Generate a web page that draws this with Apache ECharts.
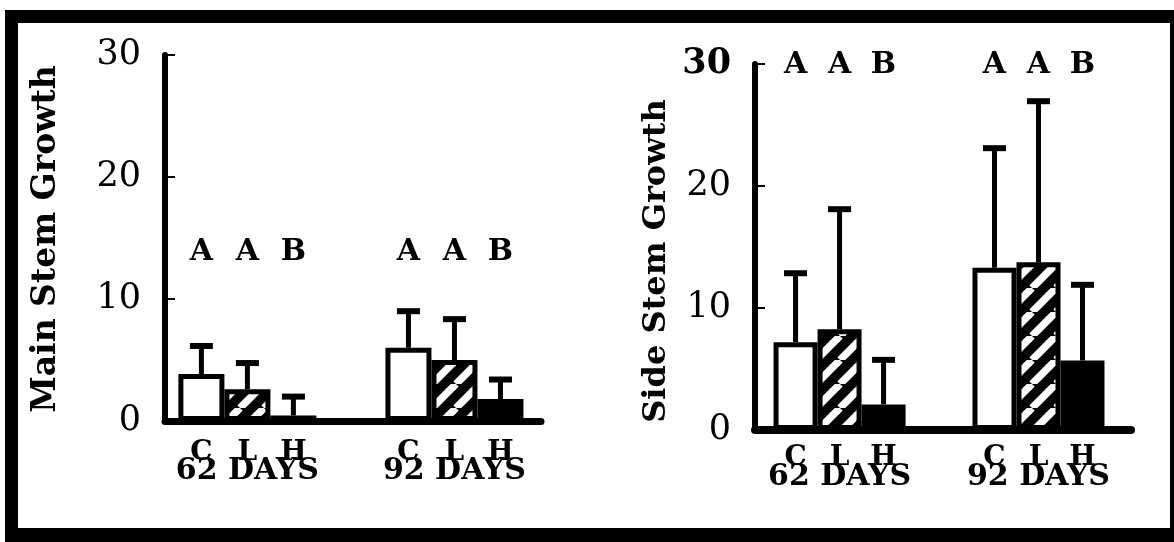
<!DOCTYPE html>
<html><head><meta charset="utf-8">
<script src="https://cdn.jsdelivr.net/npm/echarts@6/dist/echarts.min.js"></script>
<style>html,body{margin:0;padding:0;background:#fff}#c{width:1174px;height:542px}</style>
</head><body><div id="c"></div>
<script>
// ---------- data ----------
const GROUPS = ['62 DAYS', '92 DAYS'];
const GROUP_X = [1, 2];
const TREATMENTS = ['C', 'L', 'H'];
const Y_TICKS = [0, 10, 20, 30];

// Main stem growth (mean, upper end of error bar) for 62 / 92 days
const MAIN_C = [3.85, 6.0];
const MAIN_L = [2.6, 5.0];
const MAIN_H = [0.45, 1.8];
const MAIN_C_UP = [6.15, 9.0];
const MAIN_L_UP = [4.75, 8.35];
const MAIN_H_UP = [2.0, 3.4];
const MAIN_LETTERS = [['A', 'A', 'B'], ['A', 'A', 'B']];

// Side stem growth
const SIDE_C = [7.2, 13.3];
const SIDE_L = [8.25, 13.75];
const SIDE_H = [2.1, 5.7];
const SIDE_C_UP = [12.85, 23.1];
const SIDE_L_UP = [18.1, 26.95];
const SIDE_H_UP = [5.75, 11.9];
const SIDE_LETTERS = [['A', 'A', 'B'], ['A', 'A', 'B']];

// ---------- styling ----------
const SERIF = '"DejaVu Serif", serif';
function hatch() {
  const s = 24, c = document.createElement('canvas');
  c.width = s; c.height = s;
  const g = c.getContext('2d');
  g.fillStyle = '#000'; g.fillRect(0, 0, s, s);
  g.strokeStyle = '#fff'; g.lineWidth = 7.5;
  for (let k = -1; k <= 1; k++) {
    g.beginPath(); g.moveTo(k * s, s); g.lineTo(k * s + s, 0); g.stroke();
  }
  return c;
}
const FILLS = ['#fff', { image: hatch(), repeat: 'repeat' }, '#000'];

const PANELS = [
  { title: 'Main Stem Growth', means: [MAIN_C, MAIN_L, MAIN_H], ups: [MAIN_C_UP, MAIN_L_UP, MAIN_H_UP],
    letters: MAIN_LETTERS, letterLevel: 13.85,
    grid: { left: 165, top: 55, width: 376, height: 366 }, xmin: 0.602, xmax: 2.418, barW: 46,
    baseW: 7, titlePos: [46, 239], titleSize: 33, boldTop: false, labOff: 8, dayMargin: 35 },
  { title: 'Side Stem Growth', means: [SIDE_C, SIDE_L, SIDE_H], ups: [SIDE_C_UP, SIDE_L_UP, SIDE_H_UP],
    letters: SIDE_LETTERS, letterLevel: 29.9,
    grid: { left: 755, top: 64, width: 376, height: 366 }, xmin: 0.575, xmax: 2.465, barW: 44,
    baseW: 8, titlePos: [657, 261], titleSize: 32, boldTop: true, labOff: 4, dayMargin: 32 }
];

const grids = [], xAxes = [], yAxes = [], series = [], graphics = [];

graphics.push({ type: 'rect', shape: { x: 5, y: 10, width: 1169, height: 532 }, style: { fill: '#000' }, silent: true, z: -10 });
graphics.push({ type: 'rect', shape: { x: 18, y: 23, width: 1152, height: 505 }, style: { fill: '#fff' }, silent: true, z: -9 });

PANELS.forEach((p, pi) => {
  grids.push(p.grid);
  xAxes.push({
    type: 'value', gridIndex: pi, min: p.xmin, max: p.xmax,
    splitLine: { show: false },
    axisTick: { show: false },
    axisLine: { show: true, onZero: false, lineStyle: { color: '#000', width: p.baseW } },
    axisLabel: {
      show: true, customValues: GROUP_X, margin: p.dayMargin, color: '#000',
      fontFamily: SERIF, fontWeight: 'bold', fontSize: 30,
      formatter: v => GROUPS[GROUP_X.indexOf(v)] || ''
    }
  });
  yAxes.push({
    type: 'value', gridIndex: pi, min: Y_TICKS[0], max: Y_TICKS[Y_TICKS.length - 1], interval: 10,
    splitLine: { show: false },
    axisLine: { show: true, onZero: false, lineStyle: { color: '#000', width: 6 } },
    axisTick: { show: true, inside: true, length: 10, lineStyle: { color: '#000', width: 2 } },
    axisLabel: {
      margin: 24, color: '#000', fontFamily: SERIF, fontSize: 35,
      formatter: v => (p.boldTop && v === 30) ? '{b|' + v + '}' : String(v),
      rich: { b: { fontFamily: SERIF, fontSize: 35, fontWeight: 'bold', color: '#000' } }
    }
  });

  TREATMENTS.forEach((t, ti) => {
    series.push({
      type: 'bar', name: t, xAxisIndex: pi, yAxisIndex: pi,
      data: GROUP_X.map((x, gi) => [x, p.means[ti][gi]]),
      barWidth: p.barW, barGap: '0%',
      itemStyle: { color: FILLS[ti], borderColor: '#000', borderWidth: 5 },
      label: { show: true, position: 'bottom', distance: 10, offset: [0, p.labOff], formatter: t, color: '#000',
               fontFamily: SERIF, fontWeight: 'bold', fontSize: 28 },
      z: 2
    });
  });

  // error bars
  const errRows = [];
  TREATMENTS.forEach((t, ti) => GROUP_X.forEach((x, gi) => errRows.push([x, p.means[ti][gi], p.ups[ti][gi], ti])));
  series.push({
    type: 'custom', xAxisIndex: pi, yAxisIndex: pi, data: errRows, encode: { x: 0, y: [1, 2] }, z: 3,
    renderItem: (params, api) => {
      const base = api.coord([api.value(0), api.value(1)]);
      const top = api.coord([api.value(0), api.value(2)]);
      const cx = base[0] + (api.value(3) - 1) * p.barW;
      return { type: 'group', children: [
        { type: 'line', shape: { x1: cx, y1: base[1], x2: cx, y2: top[1] }, style: { stroke: '#000', lineWidth: 5 } },
        { type: 'line', shape: { x1: cx - 11.5, y1: top[1], x2: cx + 11.5, y2: top[1] }, style: { stroke: '#000', lineWidth: 6 } }
      ] };
    }
  });

  // significance letters
  const letRows = [], letText = [];
  GROUP_X.forEach((x, gi) => TREATMENTS.forEach((t, ti) => { letRows.push([x, p.letterLevel, ti]); letText.push(p.letters[gi][ti]); }));
  series.push({
    type: 'custom', xAxisIndex: pi, yAxisIndex: pi, data: letRows, z: 4, clip: false,
    renderItem: (params, api) => {
      const pt = api.coord([api.value(0), api.value(1)]);
      return { type: 'text', x: pt[0] + (api.value(2) - 1) * p.barW, y: pt[1],
        style: { text: letText[params.dataIndex], fill: '#000', font: 'bold 30px ' + SERIF,
                 align: 'center', verticalAlign: 'middle', textAlign: 'center', textVerticalAlign: 'middle' } };
    }
  });

  graphics.push({ type: 'text', x: p.titlePos[0], y: p.titlePos[1], rotation: Math.PI / 2, silent: true,
    style: { text: p.title, fill: '#000', font: 'bold ' + p.titleSize + 'px ' + SERIF, textAlign: 'center', textVerticalAlign: 'middle' } });
});

const chart = echarts.init(document.getElementById('c'));
chart.setOption({
  animation: false,
  backgroundColor: '#fff',
  graphic: graphics,
  grid: grids, xAxis: xAxes, yAxis: yAxes, series: series
});
</script></body></html>
